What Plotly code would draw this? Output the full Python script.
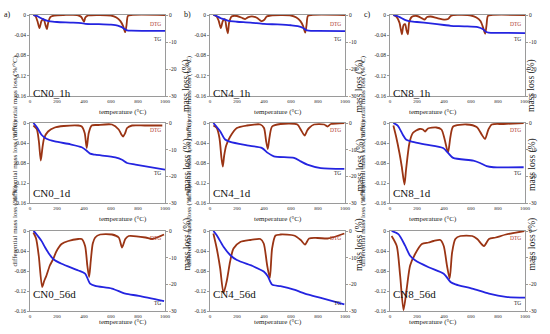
import plotly.graph_objects as go
from plotly.subplots import make_subplots

# ---------------- data ----------------
samples = ["CN0_1h", "CN4_1h", "CN8_1h",
           "CN0_1d", "CN4_1d", "CN8_1d",
           "CN0_56d", "CN4_56d", "CN8_56d"]
col_letters = ["a)", "b)", "c)"]

dtg_T_CN0_1h = [25,40,55,70,85,100,115,125,135,150,180,250,350,380,400,410,430,500,600,640,670,690,705,715,725,750,1000]
dtg_CN0_1h = [0,-0.002,-0.012,-0.026,-0.012,-0.008,-0.02,-0.028,-0.015,-0.004,-0.001,0,0,-0.004,-0.013,-0.005,-0.001,0,-0.001,-0.005,-0.012,-0.022,-0.034,-0.02,-0.002,0,0]
tg_T_CN0_1h = [25,50,75,100,125,150,200,300,380,410,500,600,650,680,700,720,750,1000]
tg_CN0_1h = [0,-0.3,-1,-1.6,-2.1,-2.4,-2.6,-2.8,-3,-3.3,-3.4,-3.6,-3.9,-4.5,-5.2,-5.7,-5.8,-5.9]

dtg_T_CN4_1h = [25,50,65,80,95,110,122,132,142,160,200,240,260,285,320,350,380,400,420,450,600,640,670,690,705,715,725,750,1000]
dtg_CN4_1h = [0,-0.003,-0.012,-0.026,-0.012,-0.008,-0.025,-0.036,-0.015,-0.003,-0.002,-0.006,-0.008,-0.004,-0.003,-0.006,-0.012,-0.01,-0.003,-0.001,-0.001,-0.005,-0.012,-0.022,-0.035,-0.02,-0.002,0,0]
tg_T_CN4_1h = [25,50,80,110,140,200,300,400,500,600,650,690,710,730,800,1000]
tg_CN4_1h = [0,-0.4,-1.2,-1.7,-2.2,-2.5,-2.8,-3.3,-3.5,-3.8,-4.1,-4.8,-5.5,-5.8,-5.9,-6]

dtg_T_CN8_1h = [25,50,70,88,100,112,122,132,142,160,200,240,255,275,300,350,400,430,450,470,600,640,670,690,705,715,725,750,1000]
dtg_CN8_1h = [0,-0.004,-0.015,-0.038,-0.02,-0.018,-0.03,-0.038,-0.015,-0.004,-0.002,-0.007,-0.009,-0.004,-0.003,-0.006,-0.009,-0.008,-0.002,0,-0.001,-0.005,-0.012,-0.025,-0.037,-0.02,-0.002,0,0]
tg_T_CN8_1h = [25,50,80,110,140,200,300,400,450,550,650,690,710,730,800,1000]
tg_CN8_1h = [0,-0.3,-1,-1.8,-2.3,-2.6,-3.1,-3.7,-4,-4.2,-4.5,-5.3,-6.2,-6.5,-6.6,-6.7]

dtg_T_CN0_1d = [25,50,65,80,92,105,134,184,250,358,383,405,420,435,457,500,607,657,675,689,705,719,756,850,980]
dtg_CN0_1d = [-0.005,-0.012,-0.035,-0.075,-0.05,-0.03,-0.017,-0.009,-0.006,-0.005,-0.007,-0.02,-0.05,-0.02,-0.005,-0.004,-0.003,-0.013,-0.022,-0.027,-0.02,-0.01,-0.005,-0.005,-0.005]
tg_T_CN0_1d = [25,50,85,122,184,300,383,420,445,483,632,682,719,781,1000]
tg_CN0_1d = [0,-1.5,-4.4,-5.9,-6.9,-8,-9.1,-10.4,-11.5,-11.9,-12.9,-13.8,-15,-15.6,-17.5]

dtg_T_CN4_1d = [25,50,70,85,95,105,120,150,199,274,373,400,415,428,440,460,522,647,672,701,720,734,771,846,870,896,995]
dtg_CN4_1d = [-0.005,-0.01,-0.03,-0.07,-0.087,-0.065,-0.045,-0.027,-0.01,-0.005,-0.003,-0.01,-0.035,-0.052,-0.03,-0.007,-0.002,-0.003,-0.013,-0.025,-0.015,-0.01,-0.003,-0.003,-0.007,-0.002,0]
tg_T_CN4_1d = [25,75,112,150,274,386,428,473,622,672,721,821,995]
tg_CN4_1d = [0,-3.1,-6.2,-7.1,-8.4,-9.4,-11.2,-12.5,-13.1,-14.4,-15.6,-16.9,-17.2]

dtg_T_CN8_1d = [25,45,70,87,107,119,144,169,219,244,260,281,343,381,405,430,448,468,567,642,679,704,729,754,841,990]
dtg_CN8_1d = [-0.005,-0.027,-0.06,-0.087,-0.123,-0.093,-0.04,-0.02,-0.012,-0.013,-0.017,-0.011,-0.009,-0.013,-0.033,-0.059,-0.027,-0.007,-0.003,-0.008,-0.023,-0.032,-0.013,-0.003,-0.002,0]
tg_T_CN8_1d = [25,57,95,119,169,269,393,430,468,617,667,716,766,990]
tg_CN8_1d = [0,-1,-4.4,-6.2,-7.1,-8.1,-9.4,-11.2,-13.1,-14.1,-15,-16.2,-16.6,-16.6]

dtg_T_CN0_56d = [25,45,65,90,105,122,147,172,197,234,284,358,383,408,425,438,450,465,483,520,607,657,682,706,731,856,905,993]
dtg_CN0_56d = [-0.003,-0.015,-0.05,-0.112,-0.1,-0.089,-0.069,-0.056,-0.04,-0.026,-0.02,-0.016,-0.016,-0.03,-0.07,-0.092,-0.06,-0.025,-0.013,-0.007,-0.007,-0.013,-0.033,-0.016,-0.01,-0.013,-0.016,-0.007]
tg_T_CN0_56d = [25,35,60,85,110,134,172,234,358,408,445,483,607,706,806,993]
tg_CN0_56d = [0,-0.4,-2,-3.7,-6,-8,-10.5,-12.3,-14.8,-16,-19.7,-20.6,-21.6,-23.5,-24.3,-26.3]

dtg_T_CN4_56d = [25,50,75,100,124,149,174,224,299,373,398,423,443,460,485,522,622,672,704,734,796,871,920,995]
dtg_CN4_56d = [-0.005,-0.035,-0.074,-0.124,-0.1,-0.061,-0.035,-0.022,-0.018,-0.016,-0.025,-0.068,-0.094,-0.035,-0.009,-0.007,-0.009,-0.018,-0.027,-0.015,-0.014,-0.015,-0.012,-0.005]
tg_T_CN4_56d = [25,50,100,149,199,323,398,428,460,522,622,721,821,995]
tg_CN4_56d = [0,-1.6,-5.9,-9,-10.9,-13.3,-15.2,-17,-20.1,-20.7,-22,-23.8,-25.1,-27.5]

dtg_T_CN8_56d = [12,50,75,100,124,149,186,236,286,323,373,398,422,442,460,484,522,609,646,696,733,783,858,995]
dtg_CN8_56d = [-0.01,-0.03,-0.089,-0.158,-0.115,-0.069,-0.046,-0.026,-0.023,-0.02,-0.018,-0.03,-0.069,-0.095,-0.043,-0.016,-0.01,-0.01,-0.016,-0.03,-0.016,-0.013,-0.007,0]
tg_T_CN8_56d = [12,62,112,149,186,286,398,448,485,609,733,858,1000]
tg_CN8_56d = [0,-1.2,-5.5,-9.3,-11,-13.6,-16,-19.1,-20,-21.6,-23.5,-24.7,-25]

dtg_sets = [
    (dtg_T_CN0_1h, dtg_CN0_1h, tg_T_CN0_1h, tg_CN0_1h),
    (dtg_T_CN4_1h, dtg_CN4_1h, tg_T_CN4_1h, tg_CN4_1h),
    (dtg_T_CN8_1h, dtg_CN8_1h, tg_T_CN8_1h, tg_CN8_1h),
    (dtg_T_CN0_1d, dtg_CN0_1d, tg_T_CN0_1d, tg_CN0_1d),
    (dtg_T_CN4_1d, dtg_CN4_1d, tg_T_CN4_1d, tg_CN4_1d),
    (dtg_T_CN8_1d, dtg_CN8_1d, tg_T_CN8_1d, tg_CN8_1d),
    (dtg_T_CN0_56d, dtg_CN0_56d, tg_T_CN0_56d, tg_CN0_56d),
    (dtg_T_CN4_56d, dtg_CN4_56d, tg_T_CN4_56d, tg_CN4_56d),
    (dtg_T_CN8_56d, dtg_CN8_56d, tg_T_CN8_56d, tg_CN8_56d),
]

dtg_ticks = [0, -0.04, -0.08, -0.12, -0.16]
dtg_ticktext = ["0", "-0.04", "-0.08", "-0.12", "-0.16"]
tg_ticks = [0, -10, -20, -30]
tg_ticktext = ["0", "-10", "-20", "-30"]
x_ticks = [0, 200, 400, 600, 800, 1000]

# ---------------- layout geometry (pixels) ----------------
W, H = 550, 334
col_px = [(30, 165), (210, 345), (390, 525)]
row_px = [(15, 96), (123, 203), (231, 311)]

def px(x):
    return x / W

def py(y):
    return 1 - y / H

FONT = "Liberation Serif, Times New Roman, serif"
DTG_COLOR = "#9a3414"
TG_COLOR = "#2424e0"
AX_COLOR = "#9a9a9a"

fig = make_subplots(rows=3, cols=3, specs=[[{"secondary_y": True}] * 3] * 3)

annotations = []
for r in range(3):
    for c in range(3):
        k = r * 3 + c
        dT, dv, tT, tv = dtg_sets[k]
        fig.add_trace(go.Scatter(x=dT, y=dv, mode="lines",
                                 line=dict(color=DTG_COLOR, width=1.8, shape="spline", smoothing=0.7),
                                 showlegend=False, hoverinfo="skip"),
                      row=r + 1, col=c + 1, secondary_y=False)
        fig.add_trace(go.Scatter(x=tT, y=tv, mode="lines",
                                 line=dict(color=TG_COLOR, width=1.8, shape="spline", smoothing=0.7),
                                 showlegend=False, hoverinfo="skip"),
                      row=r + 1, col=c + 1, secondary_y=True)
        x0, x1 = col_px[c]
        y0, y1 = row_px[r]
        fig.update_xaxes(domain=[px(x0), px(x1)], range=[0, 1000], tickvals=x_ticks,
                         ticks="",
                         tickfont=dict(size=5, family=FONT, color="#222"),
                         showline=True, linecolor=AX_COLOR, linewidth=1, mirror=True,
                         showgrid=False, zeroline=False, automargin=False,
                         row=r + 1, col=c + 1)
        fig.update_yaxes(domain=[py(y1), py(y0)], range=[-0.16, 0], tickvals=dtg_ticks,
                         ticktext=dtg_ticktext, ticks="outside", ticklen=2, tickcolor=AX_COLOR,
                         tickfont=dict(size=5.5, family=FONT, color="#222"),
                         showline=True, linecolor=AX_COLOR, linewidth=1, mirror=True,
                         showgrid=False, zeroline=False, automargin=False,
                         row=r + 1, col=c + 1, secondary_y=False)
        fig.update_yaxes(range=[-30, 0], tickvals=tg_ticks, ticktext=tg_ticktext,
                         ticks="outside", ticklen=2, tickcolor=AX_COLOR,
                         tickfont=dict(size=5.5, family=FONT, color="#222"),
                         showline=False, showgrid=False, zeroline=False, automargin=False,
                         row=r + 1, col=c + 1, secondary_y=True)

        cy = (y0 + y1) / 2
        # left axis title
        annotations.append(dict(x=px(x0 - 21.5), y=py(cy - 2), xref="paper", yref="paper",
                                text="differential mass loss (%/°C)", textangle=-90,
                                showarrow=False, font=dict(size=7, family=FONT, color="#222")))
        # right axis title
        annotations.append(dict(x=px(x1 + 14.5), y=py(cy + 2), xref="paper", yref="paper",
                                text="mass loss (%)", textangle=-90,
                                showarrow=False, font=dict(size=9.5, family=FONT, color="#222")))
        # x axis title
        annotations.append(dict(x=px((x0 + x1) / 2), y=py(y1 + 15.5), xref="paper", yref="paper",
                                text="temperature (°C)", showarrow=False, borderpad=0,
                                font=dict(size=7, family=FONT, color="#222")))
        # sample label
        annotations.append(dict(x=px(x0 + 2), y=py(y1 - 10), xref="paper", yref="paper",
                                xanchor="left", text=samples[k], showarrow=False, borderpad=0,
                                font=dict(size=11, family=FONT, color="#111")))
        # DTG / TG labels
        dtg_y = [y0 + 4, y0 + 7, y0 + 12][r]
        tg_y = [y0 + 19, y1 - 30, y1 - 3][r]
        annotations.append(dict(x=px(x1 - 2), y=py(dtg_y), xref="paper", yref="paper",
                                xanchor="right", text="DTG", showarrow=False,
                                font=dict(size=5.5, family=FONT, color="#b03a2e")))
        annotations.append(dict(x=px(x1 - 2), y=py(tg_y), xref="paper", yref="paper",
                                xanchor="right", text="TG", showarrow=False,
                                font=dict(size=5.5, family=FONT, color="#222")))

for c in range(3):
    annotations.append(dict(x=px(col_px[c][0] - 28), y=py(8), xref="paper", yref="paper",
                            xanchor="left", text=col_letters[c], showarrow=False,
                            font=dict(size=8, family=FONT, color="#111")))

fig.update_layout(width=W, height=H,
                  margin=dict(l=0, r=0, t=0, b=0, pad=0, autoexpand=False),
                  paper_bgcolor="white", plot_bgcolor="white",
                  annotations=annotations, font=dict(family=FONT))

fig.write_html("out.html", config={"displayModeBar": False},
               post_script="document.body.style.margin='0';document.body.style.padding='0';document.body.style.overflow='hidden';")
